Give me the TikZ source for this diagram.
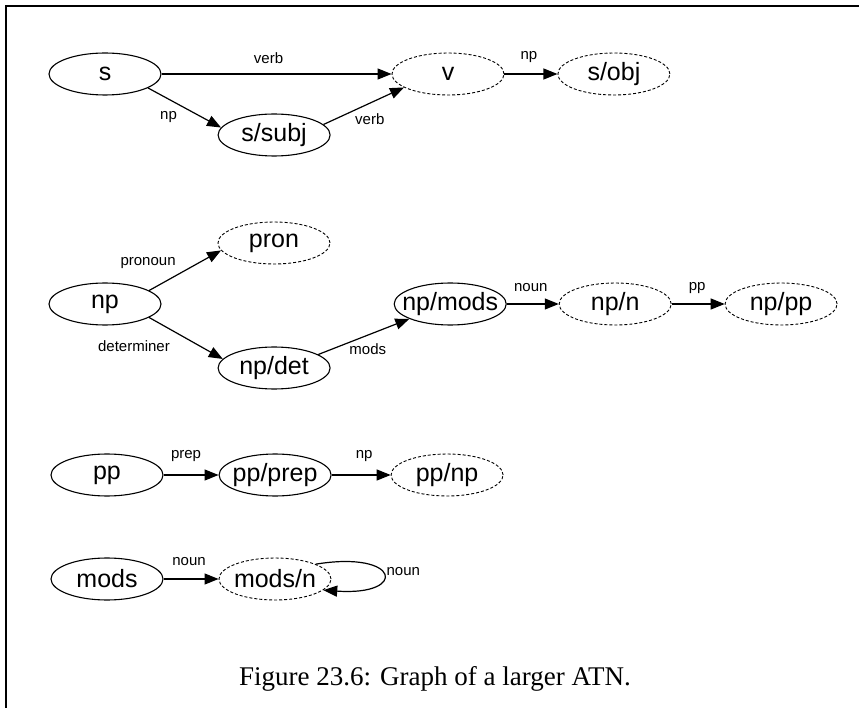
\documentclass[tikz,border=0pt]{standalone}
\usepackage{fontspec}
\setmainfont{Liberation Serif}
\newfontfamily\sansfont{Liberation Sans}
\usepackage{tikz}
\usetikzlibrary{arrows.meta}
\usetikzlibrary{shapes.geometric}
\usetikzlibrary{positioning}
\tikzset{
    state/.style={
           ellipse,
           draw=black, line width=1.1pt,
           minimum width=112pt, minimum height=42pt,
           inner xsep=-20pt, inner ysep=0pt,
           font=\sansfont\fontsize{25}{30}\selectfont,
           },
}
\tikzset{
    term/.style={
           state,
           line width=0.9pt,
           dash pattern=on 3pt off 2pt,
           },
}
\tikzset{
    trans/.style={
           -{Triangle[length=14pt,width=11pt]},
           line width=1.2pt,
           },
}
\tikzset{
    lbl/.style={
           font=\sansfont\fontsize{15}{18}\selectfont,
           },
}
\begin{document}
\begin{tikzpicture}[x=1pt,y=-1pt]
\useasboundingbox (0,0) rectangle (859,708);
\draw[line width=2.4pt] (6,708) -- (6,6) -- (859,6);
% sentence
\node[state] (S) at (105,74) {s};
\node[term,right=230pt of S] (V) {v};
\node[term,right=53pt of V] (SObj) {s/obj};
\node[state,right=56pt of S,yshift=-61pt] (SSubj) {s/subj};
% noun phrase
\node[state] (NP) at (105,304) {np};
\node[term,right=56pt of NP,yshift=61pt] (Pron) {pron};
\node[state,right=56pt of NP,yshift=-64pt] (NPDet) {np/det};
\node[state,right=63pt of NPDet,yshift=64pt] (NPMods) {np/mods};
\node[term,right=52pt of NPMods] (NPN) {np/n};
\node[term,right=53pt of NPN] (NPPP) {np/pp};
% prepositional phrase
\node[state] (PP) at (107,475) {pp};
\node[state,right=55pt of PP] (PPPrep) {pp/prep};
\node[term,right=59pt of PPPrep] (PPNP) {pp/np};
% modifiers
\node[state] (Mods) at (107,579) {mods};
\node[term,right=55pt of Mods] (ModsN) {mods/n};
\node[font=\fontsize{27}{32}\selectfont] (Caption) at (435,679) {Figure 23.6: Graph of a larger ATN.};
\path (S) edge[trans] node[lbl,xshift=-8pt,yshift=16pt]{verb} (V);
\path (S.-18) edge[trans] node[lbl,xshift=-16pt,yshift=-9pt]{np} (SSubj.172);
\path (SSubj.12) edge[trans] node[lbl,xshift=6pt,yshift=-13pt]{verb} (V.197);
\path (V) edge[trans] node[lbl,xshift=-2pt,yshift=17pt]{np} (SObj);
\path (NP.17) edge[trans] node[lbl,xshift=-37pt,yshift=7pt]{pronoun} (Pron.188);
\path (NP.-17) edge[trans] node[lbl,xshift=-52pt,yshift=-8pt]{determiner} (NPDet.170);
\path (NPDet.17) edge[trans] node[lbl,xshift=4pt,yshift=-12pt]{mods} (NPMods.200);
\path (NPMods) edge[trans] node[lbl,xshift=-2pt,yshift=16pt]{noun} (NPN);
\path (NPN) edge[trans] node[lbl,xshift=-1pt,yshift=16pt]{pp} (NPPP);
\path (PP) edge[trans] node[lbl,xshift=-5pt,yshift=19pt]{prep} (PPPrep);
\path (PPPrep) edge[trans] node[lbl,xshift=3pt,yshift=19pt]{np} (PPNP);
\path (Mods) edge[trans] node[lbl,xshift=-2pt,yshift=17pt]{noun} (ModsN);
\draw[trans] (ModsN.20) .. controls +(85,-14) and +(85,6) .. node[lbl,xshift=20pt,yshift=3pt]{noun} (ModsN.-13);
\end{tikzpicture}
\end{document}
